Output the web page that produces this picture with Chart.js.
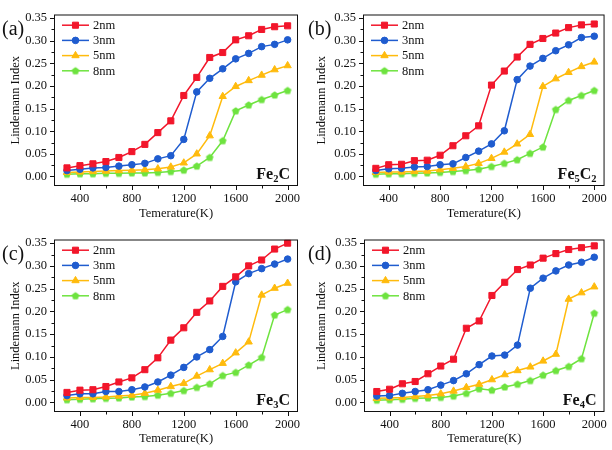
<!DOCTYPE html>
<html>
<head>
<meta charset="utf-8">
<script src="https://cdn.jsdelivr.net/npm/chart.js@4.4.1/dist/chart.umd.min.js"></script>
<style>
  html, body { margin: 0; padding: 0; background: #fff; }
  #wrap { position: relative; width: 612px; height: 450px; }
  .panel { position: absolute; width: 306px; height: 225px; }
</style>
</head>
<body>
<div id="wrap">
  <div class="panel" style="left:0;top:0"><canvas id="pa" width="306" height="225"></canvas></div>
  <div class="panel" style="left:306px;top:0"><canvas id="pb" width="306" height="225"></canvas></div>
  <div class="panel" style="left:0;top:225px"><canvas id="pc" width="306" height="225"></canvas></div>
  <div class="panel" style="left:306px;top:225px"><canvas id="pd" width="306" height="225"></canvas></div>
</div>
<script>
const temps = [300, 400, 500, 600, 700, 800, 900, 1000, 1100, 1200, 1300, 1400, 1500, 1600, 1700, 1800, 1900, 2000];
const sizes = ["2nm", "3nm", "5nm", "8nm"];
const xTicks = [400, 800, 1200, 1600, 2000];
const xMinor = [600, 1000, 1400, 1800];
const yTicks = [0, 0.05, 0.10, 0.15, 0.20, 0.25, 0.30, 0.35];
const yMinor = [0.025, 0.075, 0.125, 0.175, 0.225, 0.275, 0.325];

// (a) Fe2C
const fe2c2nm = [0.019, 0.024, 0.028, 0.033, 0.042, 0.055, 0.071, 0.097, 0.123, 0.179, 0.219, 0.263, 0.274, 0.302, 0.311, 0.325, 0.331, 0.333];
const fe2c3nm = [0.013, 0.016, 0.019, 0.020, 0.023, 0.026, 0.029, 0.039, 0.046, 0.082, 0.187, 0.217, 0.238, 0.260, 0.272, 0.287, 0.292, 0.302];
const fe2c5nm = [0.009, 0.010, 0.011, 0.012, 0.013, 0.014, 0.015, 0.017, 0.021, 0.030, 0.050, 0.090, 0.177, 0.199, 0.212, 0.224, 0.236, 0.245];
const fe2c8nm = [0.005, 0.006, 0.006, 0.007, 0.007, 0.008, 0.008, 0.009, 0.011, 0.014, 0.023, 0.042, 0.079, 0.145, 0.158, 0.170, 0.180, 0.190];

// (b) Fe5C2
const fe5c22nm = [0.018, 0.026, 0.027, 0.035, 0.036, 0.047, 0.068, 0.090, 0.112, 0.202, 0.233, 0.264, 0.292, 0.305, 0.317, 0.329, 0.335, 0.337];
const fe5c23nm = [0.013, 0.017, 0.018, 0.021, 0.022, 0.026, 0.028, 0.042, 0.056, 0.072, 0.101, 0.214, 0.244, 0.261, 0.278, 0.291, 0.307, 0.310];
const fe5c25nm = [0.009, 0.010, 0.010, 0.011, 0.012, 0.015, 0.018, 0.022, 0.029, 0.040, 0.054, 0.072, 0.093, 0.199, 0.216, 0.230, 0.243, 0.253];
const fe5c28nm = [0.005, 0.006, 0.006, 0.007, 0.008, 0.009, 0.011, 0.013, 0.016, 0.022, 0.029, 0.037, 0.051, 0.065, 0.148, 0.168, 0.179, 0.190];

// (c) Fe3C
const fe3c2nm = [0.022, 0.027, 0.028, 0.035, 0.045, 0.054, 0.072, 0.098, 0.137, 0.164, 0.198, 0.223, 0.255, 0.276, 0.300, 0.313, 0.337, 0.350];
const fe3c3nm = [0.015, 0.019, 0.019, 0.024, 0.024, 0.028, 0.034, 0.045, 0.060, 0.077, 0.100, 0.116, 0.145, 0.265, 0.283, 0.294, 0.304, 0.315];
const fe3c5nm = [0.010, 0.011, 0.011, 0.012, 0.014, 0.016, 0.020, 0.027, 0.035, 0.042, 0.058, 0.072, 0.086, 0.109, 0.133, 0.236, 0.251, 0.262];
const fe3c8nm = [0.006, 0.007, 0.008, 0.009, 0.010, 0.012, 0.013, 0.016, 0.020, 0.026, 0.033, 0.041, 0.059, 0.066, 0.082, 0.099, 0.192, 0.204];

// (d) Fe4C
const fe4c2nm = [0.024, 0.029, 0.041, 0.046, 0.063, 0.080, 0.095, 0.163, 0.179, 0.235, 0.264, 0.292, 0.302, 0.317, 0.327, 0.336, 0.340, 0.344];
const fe4c3nm = [0.014, 0.015, 0.020, 0.024, 0.028, 0.038, 0.048, 0.063, 0.083, 0.102, 0.104, 0.126, 0.251, 0.273, 0.289, 0.302, 0.308, 0.319];
const fe4c5nm = [0.009, 0.010, 0.011, 0.013, 0.015, 0.019, 0.025, 0.033, 0.040, 0.050, 0.061, 0.070, 0.078, 0.091, 0.106, 0.227, 0.241, 0.254];
const fe4c8nm = [0.005, 0.006, 0.007, 0.009, 0.010, 0.011, 0.014, 0.020, 0.030, 0.027, 0.034, 0.040, 0.048, 0.060, 0.070, 0.079, 0.096, 0.196];

const colors = ["#f2162b", "#1f5ccf", "#ffbb0d", "#6ee33f"];
const FONT = "'Liberation Serif', 'Times New Roman', serif";

// pentagon marker for the 8nm series
function pentagon(color, r) {
  const c = document.createElement("canvas");
  const s = Math.ceil(r * 2 + 2);
  c.width = s; c.height = s;
  const g = c.getContext("2d");
  g.beginPath();
  for (let k = 0; k < 5; k++) {
    const a = -Math.PI / 2 + k * 2 * Math.PI / 5;
    const px = s / 2 + r * Math.cos(a), py = s / 2 + 0.3 + r * Math.sin(a);
    if (k === 0) g.moveTo(px, py); else g.lineTo(px, py);
  }
  g.closePath();
  g.fillStyle = color;
  g.fill();
  return c;
}
const styles = ["rect", "circle", "triangle", pentagon(colors[3], 4)];
const radii = [4.3, 3.3, 4.2, 4];

// frame, outward ticks, legend, panel label and compound name
const decor = {
  id: "decor",
  afterDraw(chart) {
    const ctx = chart.ctx;
    const a = chart.chartArea;
    const o = chart.options.plugins.decor;
    const xs = chart.scales.x, ys = chart.scales.y;
    ctx.save();
    ctx.strokeStyle = "#111";
    ctx.lineWidth = 1;
    ctx.strokeRect(a.left + 0.5, a.top + 0.5, a.right - a.left - 1, a.bottom - a.top - 1);

    ctx.beginPath();
    xTicks.forEach(v => {
      const p = Math.round(xs.getPixelForValue(v)) + 0.5;
      ctx.moveTo(p, a.bottom); ctx.lineTo(p, a.bottom + 4);
    });
    xMinor.forEach(v => {
      const p = Math.round(xs.getPixelForValue(v)) + 0.5;
      ctx.moveTo(p, a.bottom); ctx.lineTo(p, a.bottom + 2.5);
    });
    yTicks.forEach(v => {
      const p = Math.round(ys.getPixelForValue(v)) + 0.5;
      ctx.moveTo(a.left, p); ctx.lineTo(a.left - 4, p);
    });
    yMinor.forEach(v => {
      const p = Math.round(ys.getPixelForValue(v)) + 0.5;
      ctx.moveTo(a.left, p); ctx.lineTo(a.left - 2.5, p);
    });
    ctx.stroke();

    // legend
    chart.data.datasets.forEach((ds, i) => {
      const y = a.top + 10.7 + i * 15.2;
      ctx.strokeStyle = ds.borderColor;
      ctx.lineWidth = 1.5;
      ctx.beginPath();
      ctx.moveTo(a.left + 8, y); ctx.lineTo(a.left + 35, y);
      ctx.stroke();
      ctx.fillStyle = ds.backgroundColor;
      ctx.strokeStyle = ds.borderColor;
      ctx.lineWidth = 1;
      Chart.helpers.drawPoint(ctx, { pointStyle: ds.pointStyle, radius: ds.pointRadius, borderWidth: 1, rotation: 0 }, a.left + 21.5, y);
      ctx.fillStyle = "#111";
      ctx.font = "12.5px " + FONT;
      ctx.textBaseline = "middle";
      ctx.textAlign = "left";
      ctx.fillText(ds.label, a.left + 39, y + 0.5);
    });

    // panel label
    ctx.fillStyle = "#111";
    ctx.font = "20px " + FONT;
    ctx.textBaseline = "middle";
    ctx.textAlign = "left";
    ctx.fillText(o.tag, 2, a.top + 15);

    // compound name with subscripts, right aligned
    const parts = o.formula;
    const big = "bold 16px " + FONT, small = "bold 10.5px " + FONT;
    let w = 0;
    parts.forEach(p => { ctx.font = p[1] ? small : big; w += ctx.measureText(p[0]).width; });
    let x = a.right - 8 - w;
    const base = a.bottom - 7;
    ctx.textBaseline = "alphabetic";
    parts.forEach(p => {
      ctx.font = p[1] ? small : big;
      ctx.fillText(p[0], x, p[1] ? base + 3 : base);
      x += ctx.measureText(p[0]).width;
    });
    ctx.restore();
  }
};

function makePanel(id, tag, formula, series, box) {
  const datasets = series.map((vals, i) => ({
    label: sizes[i],
    data: temps.map((t, k) => ({ x: t, y: vals[k] })),
    borderColor: colors[i],
    backgroundColor: colors[i],
    pointBackgroundColor: colors[i],
    pointBorderColor: colors[i],
    pointStyle: styles[i],
    pointRadius: radii[i],
    pointBorderWidth: 1,
    borderWidth: 1.5,
    tension: 0
  }));
  return new Chart(document.getElementById(id), {
    type: "line",
    data: { datasets },
    plugins: [decor],
    options: {
      responsive: false,
      animation: false,
      layout: { padding: { top: box.top, right: 306 - box.right, left: 0, bottom: 0 } },
      plugins: {
        legend: { display: false },
        tooltip: { enabled: false },
        decor: { tag, formula }
      },
      scales: {
        x: {
          type: "linear",
          min: 200, max: 2080,
          grid: { display: false, drawTicks: false },
          border: { display: false },
          afterBuildTicks(s) { s.ticks = xTicks.map(v => ({ value: v })); },
          ticks: {
            maxRotation: 0, autoSkip: false,
            padding: 5, color: "#111",
            font: { family: FONT, size: 12.5 },
            callback: v => String(v)
          },
          title: {
            display: true, text: "Temerature(K)", color: "#111",
            font: { family: FONT, size: 12.5 },
            padding: { top: 0, bottom: 4 }
          },
          afterFit(s) { s.height = 225 - box.bottom; }
        },
        y: {
          min: -0.021, max: 0.358,
          grid: { display: false, drawTicks: false },
          border: { display: false },
          afterBuildTicks(s) { s.ticks = yTicks.map(v => ({ value: v })); },
          ticks: {
            autoSkip: false, padding: 7, color: "#111",
            font: { family: FONT, size: 12.5 },
            callback: v => v.toFixed(2)
          },
          title: {
            display: true, text: "Lindemann Index", color: "#111",
            font: { family: FONT, size: 12.5 },
            padding: { top: 8, bottom: 0 }
          },
          afterFit(s) { s.width = box.left; }
        }
      }
    }
  });
}

makePanel("pa", "(a)", [["Fe", 0], ["2", 1], ["C", 0]],
  [fe2c2nm, fe2c3nm, fe2c5nm, fe2c8nm], { left: 54, right: 298, top: 5, bottom: 186 });
makePanel("pb", "(b)", [["Fe", 0], ["5", 1], ["C", 0], ["2", 1]],
  [fe5c22nm, fe5c23nm, fe5c25nm, fe5c28nm], { left: 57, right: 302, top: 5, bottom: 186 });
makePanel("pc", "(c)", [["Fe", 0], ["3", 1], ["C", 0]],
  [fe3c2nm, fe3c3nm, fe3c5nm, fe3c8nm], { left: 54, right: 298, top: 6, bottom: 187 });
makePanel("pd", "(d)", [["Fe", 0], ["4", 1], ["C", 0]],
  [fe4c2nm, fe4c3nm, fe4c5nm, fe4c8nm], { left: 58, right: 302, top: 5, bottom: 187 });
</script>
</body>
</html>
